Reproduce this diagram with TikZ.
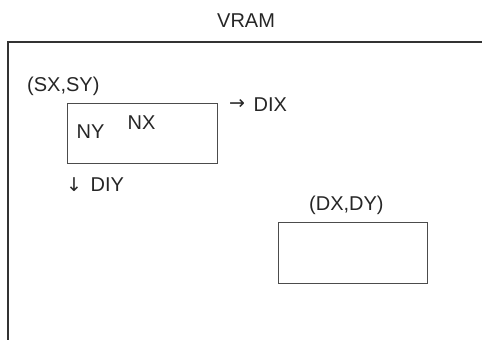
\documentclass[tikz,border=0pt]{standalone}
\usepackage{fontspec}
\setmainfont{Liberation Sans}
\newfontfamily\arrfont{DejaVu Sans}
\begin{document}
\begin{tikzpicture}[x=1pt,y=1pt,
  lbl/.style={inner sep=0pt,anchor=base west,font=\fontsize{20}{22}\selectfont,text=black!85},
  arr/.style={inner sep=0pt,anchor=base west,font=\arrfont\fontsize{19}{22}\selectfont,text=black!85},
  areabox/.style={draw=black!70,line width=0.8pt,minimum width=150pt,minimum height=60pt,inner sep=0pt},
  frame/.style={draw=black!80,line width=1.4pt}]
\useasboundingbox (0,0) rectangle (482,340);
\coordinate (fb) at (8,0);
\coordinate (fc) at (8,298);
\coordinate (fr) at (482,298);
\draw[frame] (fb) -- (fc) -- (fr);
\node[lbl] (vram) at (217,312) {VRAM};
\node[areabox] (src) at (142,207) {};
\node[areabox,minimum width=149pt,minimum height=61pt] (dst) at (352.5,87.5) {};
\node[lbl] (sxsy) at (27,248) {(SX,SY)};
\node[lbl] (nx) at (127.5,210) {NX};
\node[lbl] (ny) at (76.5,201) {NY};
\node[arr] (arx) at (229,230) {→};
\node[lbl] (dix) at (253.5,228) {DIX};
\node[arr] (ary) at (66,148) {↓};
\node[lbl] (diy) at (90.5,148) {DIY};
\node[lbl] (dxdy) at (309,129) {(DX,DY)};
\end{tikzpicture}
\end{document}
